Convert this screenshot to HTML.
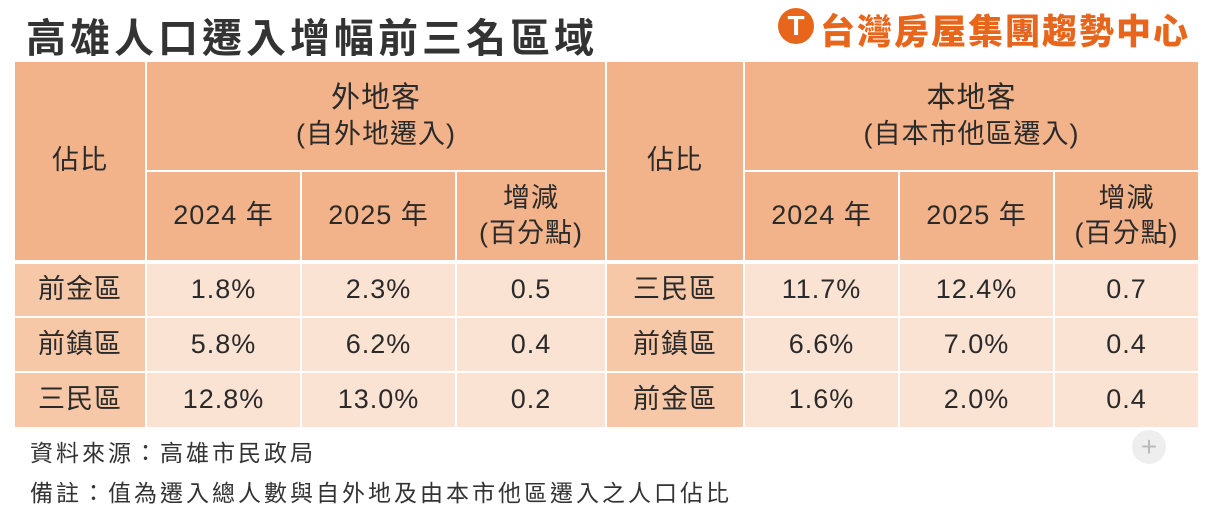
<!DOCTYPE html>
<html><head><meta charset="utf-8"><style>
body{margin:0;width:1216px;height:506px;background:#fff;position:relative;overflow:hidden;font-family:"Liberation Sans","Noto Sans CJK TC",sans-serif;color:#2a2a2a}
.c{position:absolute;display:flex;align-items:center;justify-content:center;text-align:center;box-sizing:border-box;font-size:27px;line-height:1.3;letter-spacing:1px}
.h{background:#f2b38a}
.l{background:#f6c8a8}
.d{background:#fbe3d4}
</style></head><body>
<div style="position:absolute;left:26px;top:6px;font-size:40px;font-weight:bold;color:#333;font-family:'Noto Sans CJK TC',sans-serif;letter-spacing:4px">高雄人口遷入增幅前三名區域</div>
<div style="position:absolute;left:778px;top:8px;width:36px;height:36px;border-radius:50%;background:#e8651c;color:#fff;font-weight:bold;font-size:28px;text-align:center;line-height:36px">T</div>
<div style="position:absolute;left:820px;top:4px;font-size:35px;font-weight:900;color:#e8651c;font-family:'Noto Sans CJK TC',sans-serif;letter-spacing:2px">台灣房屋集團趨勢中心</div>

<div class="c h" style="left:15px;top:62px;width:130px;height:198px">佔比</div>
<div class="c h" style="left:147px;top:62px;width:458px;height:108px;flex-direction:column"><div style="font-size:29px">外地客</div><div>(自外地遷入)</div></div>
<div class="c h" style="left:147px;top:172px;width:153px;height:88px">2024 年</div>
<div class="c h" style="left:302px;top:172px;width:153px;height:88px">2025 年</div>
<div class="c h" style="left:457px;top:172px;width:148px;height:88px">增減<br>(百分點)</div>
<div class="c h" style="left:607px;top:62px;width:136px;height:198px">佔比</div>
<div class="c h" style="left:745px;top:62px;width:453px;height:108px;flex-direction:column"><div style="font-size:29px">本地客</div><div>(自本市他區遷入)</div></div>
<div class="c h" style="left:745px;top:172px;width:153px;height:88px">2024 年</div>
<div class="c h" style="left:900px;top:172px;width:153px;height:88px">2025 年</div>
<div class="c h" style="left:1055px;top:172px;width:143px;height:88px">增減<br>(百分點)</div>

<div class="c l" style="left:15px;top:264px;width:130px;height:52px">前金區</div>
<div class="c d" style="left:147px;top:264px;width:153px;height:52px">1.8%</div>
<div class="c d" style="left:302px;top:264px;width:153px;height:52px">2.3%</div>
<div class="c d" style="left:457px;top:264px;width:148px;height:52px">0.5</div>
<div class="c l" style="left:607px;top:264px;width:136px;height:52px">三民區</div>
<div class="c d" style="left:745px;top:264px;width:153px;height:52px">11.7%</div>
<div class="c d" style="left:900px;top:264px;width:153px;height:52px">12.4%</div>
<div class="c d" style="left:1055px;top:264px;width:143px;height:52px">0.7</div>

<div class="c l" style="left:15px;top:318px;width:130px;height:53px">前鎮區</div>
<div class="c d" style="left:147px;top:318px;width:153px;height:53px">5.8%</div>
<div class="c d" style="left:302px;top:318px;width:153px;height:53px">6.2%</div>
<div class="c d" style="left:457px;top:318px;width:148px;height:53px">0.4</div>
<div class="c l" style="left:607px;top:318px;width:136px;height:53px">前鎮區</div>
<div class="c d" style="left:745px;top:318px;width:153px;height:53px">6.6%</div>
<div class="c d" style="left:900px;top:318px;width:153px;height:53px">7.0%</div>
<div class="c d" style="left:1055px;top:318px;width:143px;height:53px">0.4</div>

<div class="c l" style="left:15px;top:373px;width:130px;height:54px">三民區</div>
<div class="c d" style="left:147px;top:373px;width:153px;height:54px">12.8%</div>
<div class="c d" style="left:302px;top:373px;width:153px;height:54px">13.0%</div>
<div class="c d" style="left:457px;top:373px;width:148px;height:54px">0.2</div>
<div class="c l" style="left:607px;top:373px;width:136px;height:54px">前金區</div>
<div class="c d" style="left:745px;top:373px;width:153px;height:54px">1.6%</div>
<div class="c d" style="left:900px;top:373px;width:153px;height:54px">2.0%</div>
<div class="c d" style="left:1055px;top:373px;width:143px;height:54px">0.4</div>

<div style="position:absolute;left:30px;top:434px;font-size:23px;color:#333;letter-spacing:3px">資料來源：高雄市民政局</div>
<div style="position:absolute;left:30px;top:474px;font-size:23px;color:#333;letter-spacing:3px">備註：值為遷入總人數與自外地及由本市他區遷入之人口佔比</div>
<div style="position:absolute;left:1132px;top:430px;width:34px;height:34px;border-radius:50%;background:#eee;color:#bbb;font-size:28px;text-align:center;line-height:34px">+</div>
</body></html>
